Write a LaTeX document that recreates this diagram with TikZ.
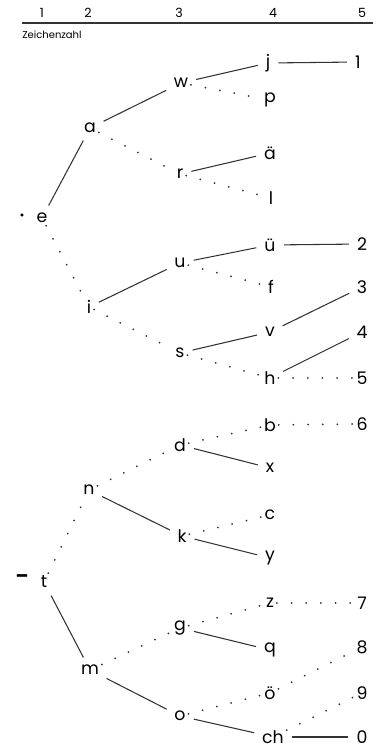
\documentclass[tikz,border=0pt]{standalone}
\usepackage{fontspec}
\setmainfont{Poppins}

\begin{document}
\begin{tikzpicture}[
  x=0.75pt,y=-0.75pt,
  zeichen/.style={font=\fontsize{13}{13}\selectfont,inner sep=2pt},
  kopf/.style={font=\fontsize{9.5}{9.5}\selectfont,inner sep=0pt},
  dah/.style={draw=black!80,line width=0.8pt,shorten <=4pt,shorten >=4pt},
  dit/.style={draw=black!80,line width=1.5pt,line cap=round,dash pattern=on 0pt off 11pt}
]
  \useasboundingbox (0,0) rectangle (378,749);

  % Kopfzeile
  \node[kopf] (head1) at (42,13) {1};
  \node[kopf] (head2) at (88,13) {2};
  \node[kopf] (head3) at (179,13) {3};
  \node[kopf] (head4) at (273,13) {4};
  \node[kopf] (head5) at (362,13) {5};
  \coordinate (rl) at (22,23);
  \coordinate (rr) at (373,23);
  \draw[black!80,line width=1pt] (rl) -- (rr);
  \node[kopf,font=\fontsize{7.5}{7.5}\selectfont,anchor=west] (zz) at (22,35) {Zeichenzahl};

  % Stufe 1
  \node[zeichen,font=\fontsize{9}{9}\selectfont] (edot) at (22,217) {•};
  \node[zeichen] (e) at (42,218) {e};
  \node[zeichen,font=\bfseries\fontsize{14}{14}\selectfont] (tdash) at (22,579) {–};
  \node[zeichen] (t) at (44,582) {t};

  % Stufe 2
  \node[zeichen] (a) at (90,128) {a};
  \node[zeichen] (i) at (89,307) {i};
  \node[zeichen] (n) at (89,490) {n};
  \node[zeichen] (m) at (90,670) {m};

  % Stufe 3
  \node[zeichen] (w) at (181,83) {w};
  \node[zeichen] (r) at (180,174) {r};
  \node[zeichen] (u) at (180,263) {u};
  \node[zeichen] (s) at (180,353) {s};
  \node[zeichen] (d) at (180,445) {d};
  \node[zeichen] (k) at (182,536) {k};
  \node[zeichen] (g) at (180,628) {g};
  \node[zeichen] (o) at (180,716) {o};

  % Stufe 4
  \node[zeichen] (j) at (268,63) {j};
  \node[zeichen] (p) at (270,100) {p};
  \node[zeichen] (ae) at (270,153) {ä};
  \node[zeichen] (l) at (271,198) {l};
  \node[zeichen] (ue) at (270,245) {ü};
  \node[zeichen] (f) at (271,287) {f};
  \node[zeichen] (v) at (270,332) {v};
  \node[zeichen] (h) at (270,378) {h};
  \node[zeichen] (b) at (270,425) {b};
  \node[zeichen] (x) at (270,468) {x};
  \node[zeichen] (c) at (270,515) {c};
  \node[zeichen] (y) at (270,558) {y};
  \node[zeichen] (z) at (270,603) {z};
  \node[zeichen] (q) at (270,650) {q};
  \node[zeichen] (oe) at (270,693) {ö};
  \node[zeichen] (ch) at (273,737) {ch};

  % Stufe 5
  \node[zeichen] (num1) at (358,62) {1};
  \node[zeichen] (num2) at (362,244) {2};
  \node[zeichen] (num3) at (362,287) {3};
  \node[zeichen] (num4) at (362,332) {4};
  \node[zeichen] (num5) at (362,378) {5};
  \node[zeichen] (num6) at (362,424) {6};
  \node[zeichen] (num7) at (362,603) {7};
  \node[zeichen] (num8) at (362,647) {8};
  \node[zeichen] (num9) at (362,693) {9};
  \node[zeichen] (num0) at (362,737) {0};

  % Striche
  \foreach \from/\to in {e/a,a/w,w/j,j/num1,r/ae,i/u,u/ue,ue/num2,s/v,v/num3,h/num4,
                         t/m,n/k,d/x,k/y,m/o,g/q,o/ch,ch/num0}
    \draw[dah] (\from) -- (\to);
  % Punkte
  \foreach \from/\to in {e/i,a/r,w/p,r/l,i/s,u/f,s/h,h/num5,
                         t/n,n/d,d/b,b/num6,k/c,m/g,g/z,z/num7,o/oe,oe/num8,ch/num9}
    \draw[dit] (\from) -- (\to);
\end{tikzpicture}
\end{document}
